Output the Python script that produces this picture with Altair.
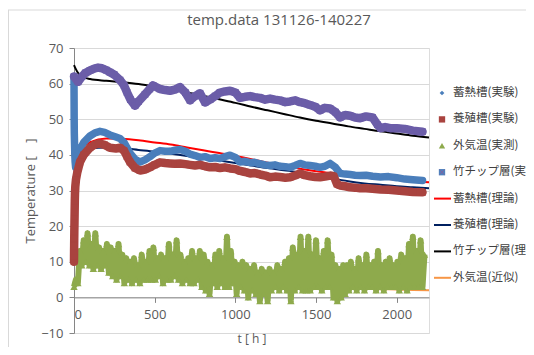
import altair as alt
import pandas as pd

# ---------------- data ----------------
# 蓄熱槽(実験)  blue diamonds
t_blue = [0, 0.3, 0.6, 1, 1.5, 2, 3, 4, 5, 7,
          10, 20, 37, 60, 99, 130, 161, 190, 223, 260,
          285, 310, 329, 347, 378, 409, 440, 471, 500, 533,
          565, 595, 625, 657, 690, 719, 750, 781, 812, 843,
          875, 905, 935, 967, 1000, 1029, 1060, 1091, 1120, 1153,
          1185, 1215, 1245, 1277, 1310, 1339, 1370, 1401, 1430, 1463,
          1495, 1525, 1555, 1587, 1620, 1649, 1680, 1711, 1742, 1773,
          1810, 1850, 1900, 1950, 2000, 2050, 2100, 2160]
v_blue = [62, 58, 55, 51, 48, 46, 44, 42, 40, 38,
          36.5, 38.5, 41.5, 43.5, 45.3, 46.2, 46.6, 46.3, 45.6, 45,
          44.6, 43.5, 42, 40.5, 38.8, 38, 38.6, 39.5, 40.5, 41.2,
          41, 41, 41.3, 41.5, 41, 40.2, 39.8, 39.3, 39.5, 39,
          39.2, 39, 39.5, 39.9, 39.3, 38, 38.2, 37.8, 37.9, 37.5,
          37.2, 37, 37.2, 36.8, 36.7, 36.5, 37, 37.6, 37.2, 37,
          36.8, 36.5, 36.8, 37.6, 36.5, 34.8, 34.6, 34.5, 34.3, 34.2,
          34.3, 34, 33.8, 33.9, 33.6, 33.2, 33, 32.8]

# 養殖槽(実験)  red squares
t_red = [0, 0.3, 0.6, 1, 1.5, 2, 3, 4, 5, 6,
         8, 12, 20, 37, 60, 99, 130, 155, 190, 223,
         260, 285, 310, 329, 347, 378, 409, 440, 471, 500,
         533, 565, 595, 625, 657, 690, 719, 750, 781, 812,
         843, 875, 905, 935, 967, 1000, 1029, 1060, 1091, 1120,
         1153, 1185, 1215, 1245, 1277, 1310, 1339, 1370, 1401, 1430,
         1463, 1495, 1525, 1555, 1587, 1610, 1630, 1649, 1680, 1711,
         1742, 1773, 1810, 1850, 1900, 1950, 2000, 2050, 2100, 2160]
v_red = [10, 11.5, 13, 14.5, 16.5, 18.5, 21, 24, 27, 29,
         31, 33, 35, 38, 40, 42, 42.9, 43.2, 42.8, 42,
         41.8, 42, 41.2, 39.5, 38, 36.3, 35.6, 35.9, 36.5, 37.2,
         37.9, 37.7, 37.6, 37.5, 37.6, 37.4, 37.2, 37, 37.2, 36.8,
         36.5, 36.6, 36.3, 36.5, 36.2, 36, 35.5, 35.2, 34.8, 34.9,
         34.5, 34.2, 33.7, 33.9, 33.8, 33.6, 33.7, 34.2, 34.8, 34.3,
         34, 33.8, 33.7, 33.9, 34.2, 34, 31.8, 31.4, 31.2, 30.9,
         30.8, 30.6, 30.6, 30.5, 30.3, 30.2, 30, 29.8, 29.6, 29.5]

# 竹チップ層(実験)  purple squares
t_purple = [0, 25, 50, 70, 99, 130, 149, 174, 200, 223,
            250, 285, 310, 329, 350, 378, 400, 440, 470, 490,
            533, 565, 595, 625, 657, 690, 719, 750, 781, 812,
            843, 875, 905, 935, 967, 1000, 1029, 1060, 1091, 1120,
            1153, 1185, 1215, 1245, 1277, 1310, 1339, 1370, 1401, 1430,
            1463, 1495, 1525, 1555, 1587, 1620, 1649, 1680, 1711, 1742,
            1773, 1810, 1850, 1880, 1900, 1928, 1960, 2000, 2050, 2100,
            2160]
v_purple = [62, 60.5, 62, 63, 63.7, 64.3, 64.5, 64.3, 63.8, 63.2,
            62.5, 61, 59.5, 57.5, 55.5, 53.8, 55, 57, 58.5, 59.5,
            58.5, 58.2, 58, 58.3, 59, 57.5, 55.3, 56.5, 57.3, 54.7,
            55.5, 56.5, 57.5, 57.8, 58, 57.5, 56, 56.3, 56.5, 56.2,
            56, 55.5, 55.8, 55.5, 55.3, 54.8, 55, 55.3, 54.8, 54.5,
            54, 53.5, 52.5, 53.2, 53, 52, 50.5, 51.2, 51, 50.5,
            50.3, 50.8, 50.5, 48.5, 47.5, 47.8, 47.5, 47.5, 47.3, 46.8,
            46.5]

# 外気温(実測)  green triangles, one reading every 12 h
green_step_h = 12
v_green = [3, 5, 4, 13, 9, 16, 10, 18, 9, 15,
           8, 18, 9, 14, 8, 13, 9, 15, 7, 14,
           6, 13, 5, 15, 6, 12, 4, 11, 5, 10,
           4, 11, 5, 9, 4, 12, 5, 10, 5, 13,
           5, 14, 5, 11, 6, 12, 4, 11, 5, 15,
           5, 12, 6, 16, 5, 12, 4, 10, 5, 11,
           4, 13, 4, 11, 5, 13, 3, 12, 2, 10,
           1, 9, 4, 12, 3, 13, 4, 11, 3, 17,
           3, 13, 4, 10, 1, 9, 3, 10, 2, 9,
           0, 8, 2, 9, 1, 7, -1, 8, 1, 7,
           -1, 8, 2, 7, 3, 9, 2, 8, 3, 10,
           2, 11, -1, 14, 2, 12, 3, 17, 2, 13,
           2, 17, 2, 12, 3, 16, 3, 11, 2, 13,
           3, 16, 3, 12, 0, 9, -1, 8, 0, 9,
           1, 9, 2, 10, 3, 8, 2, 11, 3, 9,
           2, 12, 3, 9, 3, 10, 2, 13, 3, 9,
           2, 10, 3, 11, 3, 9, 3, 10, 2, 12,
           3, 11, 2, 15, 3, 17, 3, 13, 3, 16,
           3, 12]
t_green = [i * green_step_h for i in range(len(v_green))]

# theoretical / approximated curves
t_theory = [0, 10, 25, 50, 100, 200, 300, 400, 500, 600, 700, 800, 900,
            1000, 1100, 1200, 1300, 1400, 1500, 1600, 1700, 1800, 1900,
            2000, 2100, 2200]
v_red_th = [34, 37, 39.8, 41.8, 43.6, 44.6, 44.5, 44.1, 43.5, 42.9, 42.1, 41.3, 40.5,
            39.7, 38.8, 37.8, 37, 36.1, 35.4, 34.8, 34.3, 33.8, 33.4,
            33, 32.6, 32.3]
v_navy_th = [34, 36.5, 38.8, 40.6, 41.8, 42.1, 41.9, 41.4, 40.9, 40.3, 39.7, 39.1, 38.4,
             37.7, 37, 36.3, 35.7, 35.1, 34.3, 33.4, 32.6, 32, 31.6,
             31.2, 30.9, 30.6]
v_black_th = [65.2, 64.2, 63, 62, 61.3, 60.8, 60.4, 59.9, 59.2, 58.4, 57.5, 56.6, 55.6,
              54.6, 53.5, 52.5, 51.5, 50.5, 49.6, 48.8, 48, 47.3, 46.6,
              46, 45.4, 44.9]
v_orange = [11, 10.9, 10.7, 10.4, 9.8, 8.8, 7.9, 7.1, 6.4, 5.8, 5.3, 4.9, 4.5,
            4.2, 3.9, 3.6, 3.3, 3.1, 2.9, 2.7, 2.5, 2.4, 2.3,
            2.2, 2.1, 2.0]

legend_labels = ["蓄熱槽(実験)", "養殖槽(実験)", "外気温(実測)", "竹チップ層(実験)",
                 "蓄熱槽(理論)", "養殖槽(理論)", "竹チップ層(理論)", "外気温(近似)"]
title_text = "temp.data 131126-140227"
y_title = "Temperature [\u00a0\u00a0\u00a0\u00a0]"
x_title = "t [ h ]"

x_ticks = [0, 500, 1000, 1500, 2000]
y_ticks = [-10, 0, 10, 20, 30, 40, 50, 60, 70]

# ---------------- style ----------------
C_BLUE = "#4A7EBB"
C_RED = "#A9433F"
C_GREEN = "#8EAA4C"
C_PURPLE = "#6B5DA8"
C_RED_TH = "#FF0000"
C_NAVY_TH = "#002060"
C_BLACK_TH = "#000000"
C_ORANGE = "#F79646"
TXT = "#595959"
FONT = "Open Sans"
JFONT = "Noto Sans CJK JP"

W, H = 355, 285

xs = alt.Scale(domain=[0, 2200], nice=False, zero=False)
ys = alt.Scale(domain=[-10, 70], nice=False, zero=False)

X = alt.X("t:Q", scale=xs, axis=alt.Axis(
    values=x_ticks, format="d", title=x_title, grid=False, offset=-35.625,
    domainColor="#868686", tickColor="#868686", tickSize=5,
    labelPadding=6, labelFontSize=13, labelColor=TXT, labelFont=FONT,
    titleFontSize=12, titleColor=TXT, titleFont=FONT, titleFontWeight="normal",
    titlePadding=12))
Y = alt.Y("v:Q", scale=ys, axis=alt.Axis(
    values=y_ticks, title=y_title, grid=True, gridColor="#D9D9D9",
    domainColor="#868686", tickColor="#868686", tickSize=5,
    labelPadding=6, labelFontSize=13, labelColor=TXT, labelFont=FONT,
    titleFontSize=13, titleColor=TXT, titleFont=FONT, titleFontWeight="normal",
    titlePadding=3))


def frame(t, v):
    return pd.DataFrame({"t": t, "v": v})


one = pd.DataFrame({"a": [0]})
layers = []

# outer chart border (decoration)
layers.append(alt.Chart(one).mark_rule(color="#D9D9D9", strokeWidth=1).encode(
    x=alt.value(-65.5), y=alt.value(-38), y2=alt.value(310)))
layers.append(alt.Chart(one).mark_rule(color="#D9D9D9", strokeWidth=1).encode(
    x=alt.value(-66), x2=alt.value(460), y=alt.value(-38)))

# chart title
layers.append(alt.Chart(pd.DataFrame({"label": [title_text]})).mark_text(
    align="center", baseline="middle", font=FONT, fontSize=15, color=TXT).encode(
    x=alt.value(205), y=alt.value(-28), text="label:N"))

# theory / approximation lines (drawn below the markers, as Excel does)
for vals, col in [(v_orange, C_ORANGE), (v_red_th, C_RED_TH),
                  (v_navy_th, C_NAVY_TH), (v_black_th, C_BLACK_TH)]:
    layers.append(alt.Chart(frame(t_theory, vals)).mark_line(
        color=col, strokeWidth=2, interpolate="monotone").encode(x=X, y=Y))

# green measured outdoor temperature
g = frame(t_green, v_green)
layers.append(alt.Chart(g).mark_line(color=C_GREEN, strokeWidth=6,
                                     strokeJoin="round").encode(x=X, y=Y))
layers.append(alt.Chart(g).mark_point(shape="triangle-up", filled=True, color=C_GREEN,
                                      size=55, opacity=1).encode(x=X, y=Y))

# blue measured
b = frame(t_blue, v_blue)
layers.append(alt.Chart(b).mark_line(color=C_BLUE, strokeWidth=7.5, strokeCap="round",
                                     strokeJoin="round").encode(x=X, y=Y))
layers.append(alt.Chart(b).mark_point(shape="diamond", filled=True, color=C_BLUE,
                                      size=30, opacity=1).encode(x=X, y=Y))
# red measured
r = frame(t_red, v_red)
layers.append(alt.Chart(r).mark_line(color=C_RED, strokeWidth=8.5, strokeCap="round",
                                     strokeJoin="round").encode(x=X, y=Y))
layers.append(alt.Chart(r).mark_point(shape="square", filled=True, color=C_RED,
                                      size=45, opacity=1).encode(x=X, y=Y))
# purple measured
p = frame(t_purple, v_purple)
layers.append(alt.Chart(p).mark_line(color=C_PURPLE, strokeWidth=8.5, strokeCap="round",
                                     strokeJoin="round").encode(x=X, y=Y))
layers.append(alt.Chart(p).mark_point(shape="square", filled=True, color=C_PURPLE,
                                      size=45, opacity=1).encode(x=X, y=Y))

# ---------------- manual legend ----------------
LEG_Y0, LEG_DY = 45, 26.4
LEG_MX, LEG_LX1, LEG_LX2, LEG_TX = 368, 360, 377, 379
marker_specs = [("diamond", C_BLUE, 22), ("square", C_RED, 40),
                ("triangle-up", C_GREEN, 40), ("square", "#4F81BD", 40)]
line_specs = [C_RED_TH, C_NAVY_TH, C_BLACK_TH, C_ORANGE]
for i, lab in enumerate(legend_labels):
    yy = LEG_Y0 + i * LEG_DY
    if i < 4:
        shp, col, sz = marker_specs[i]
        layers.append(alt.Chart(one).mark_point(shape=shp, filled=True, color=col, size=sz,
                                                opacity=1).encode(
            x=alt.value(LEG_MX), y=alt.value(yy)))
        if i == 3:
            layers.append(alt.Chart(one).mark_point(
                shape="M-1,-1L1,1M-1,1L1,-1", filled=False, color="#8064A2",
                strokeWidth=1, size=22, opacity=1).encode(
                x=alt.value(LEG_MX), y=alt.value(yy)))
    else:
        layers.append(alt.Chart(one).mark_rule(color=line_specs[i - 4], strokeWidth=2).encode(
            x=alt.value(LEG_LX1), x2=alt.value(LEG_LX2), y=alt.value(yy)))
    layers.append(alt.Chart(pd.DataFrame({"label": [lab]})).mark_text(
        align="left", baseline="middle", font=JFONT, fontSize=11.5, color="#404040").encode(
        x=alt.value(LEG_TX), y=alt.value(yy), text="label:N"))

chart = alt.layer(*layers).properties(
    width=W, height=H,
    autosize=alt.AutoSizeParams(type="none"),
    padding={"left": 66, "top": 40, "right": 97, "bottom": 14},
).configure_view(stroke="#A6A6A6", strokeWidth=1).configure(background="white")

chart.save("out.html", embed_options={"renderer": "svg", "actions": False})
